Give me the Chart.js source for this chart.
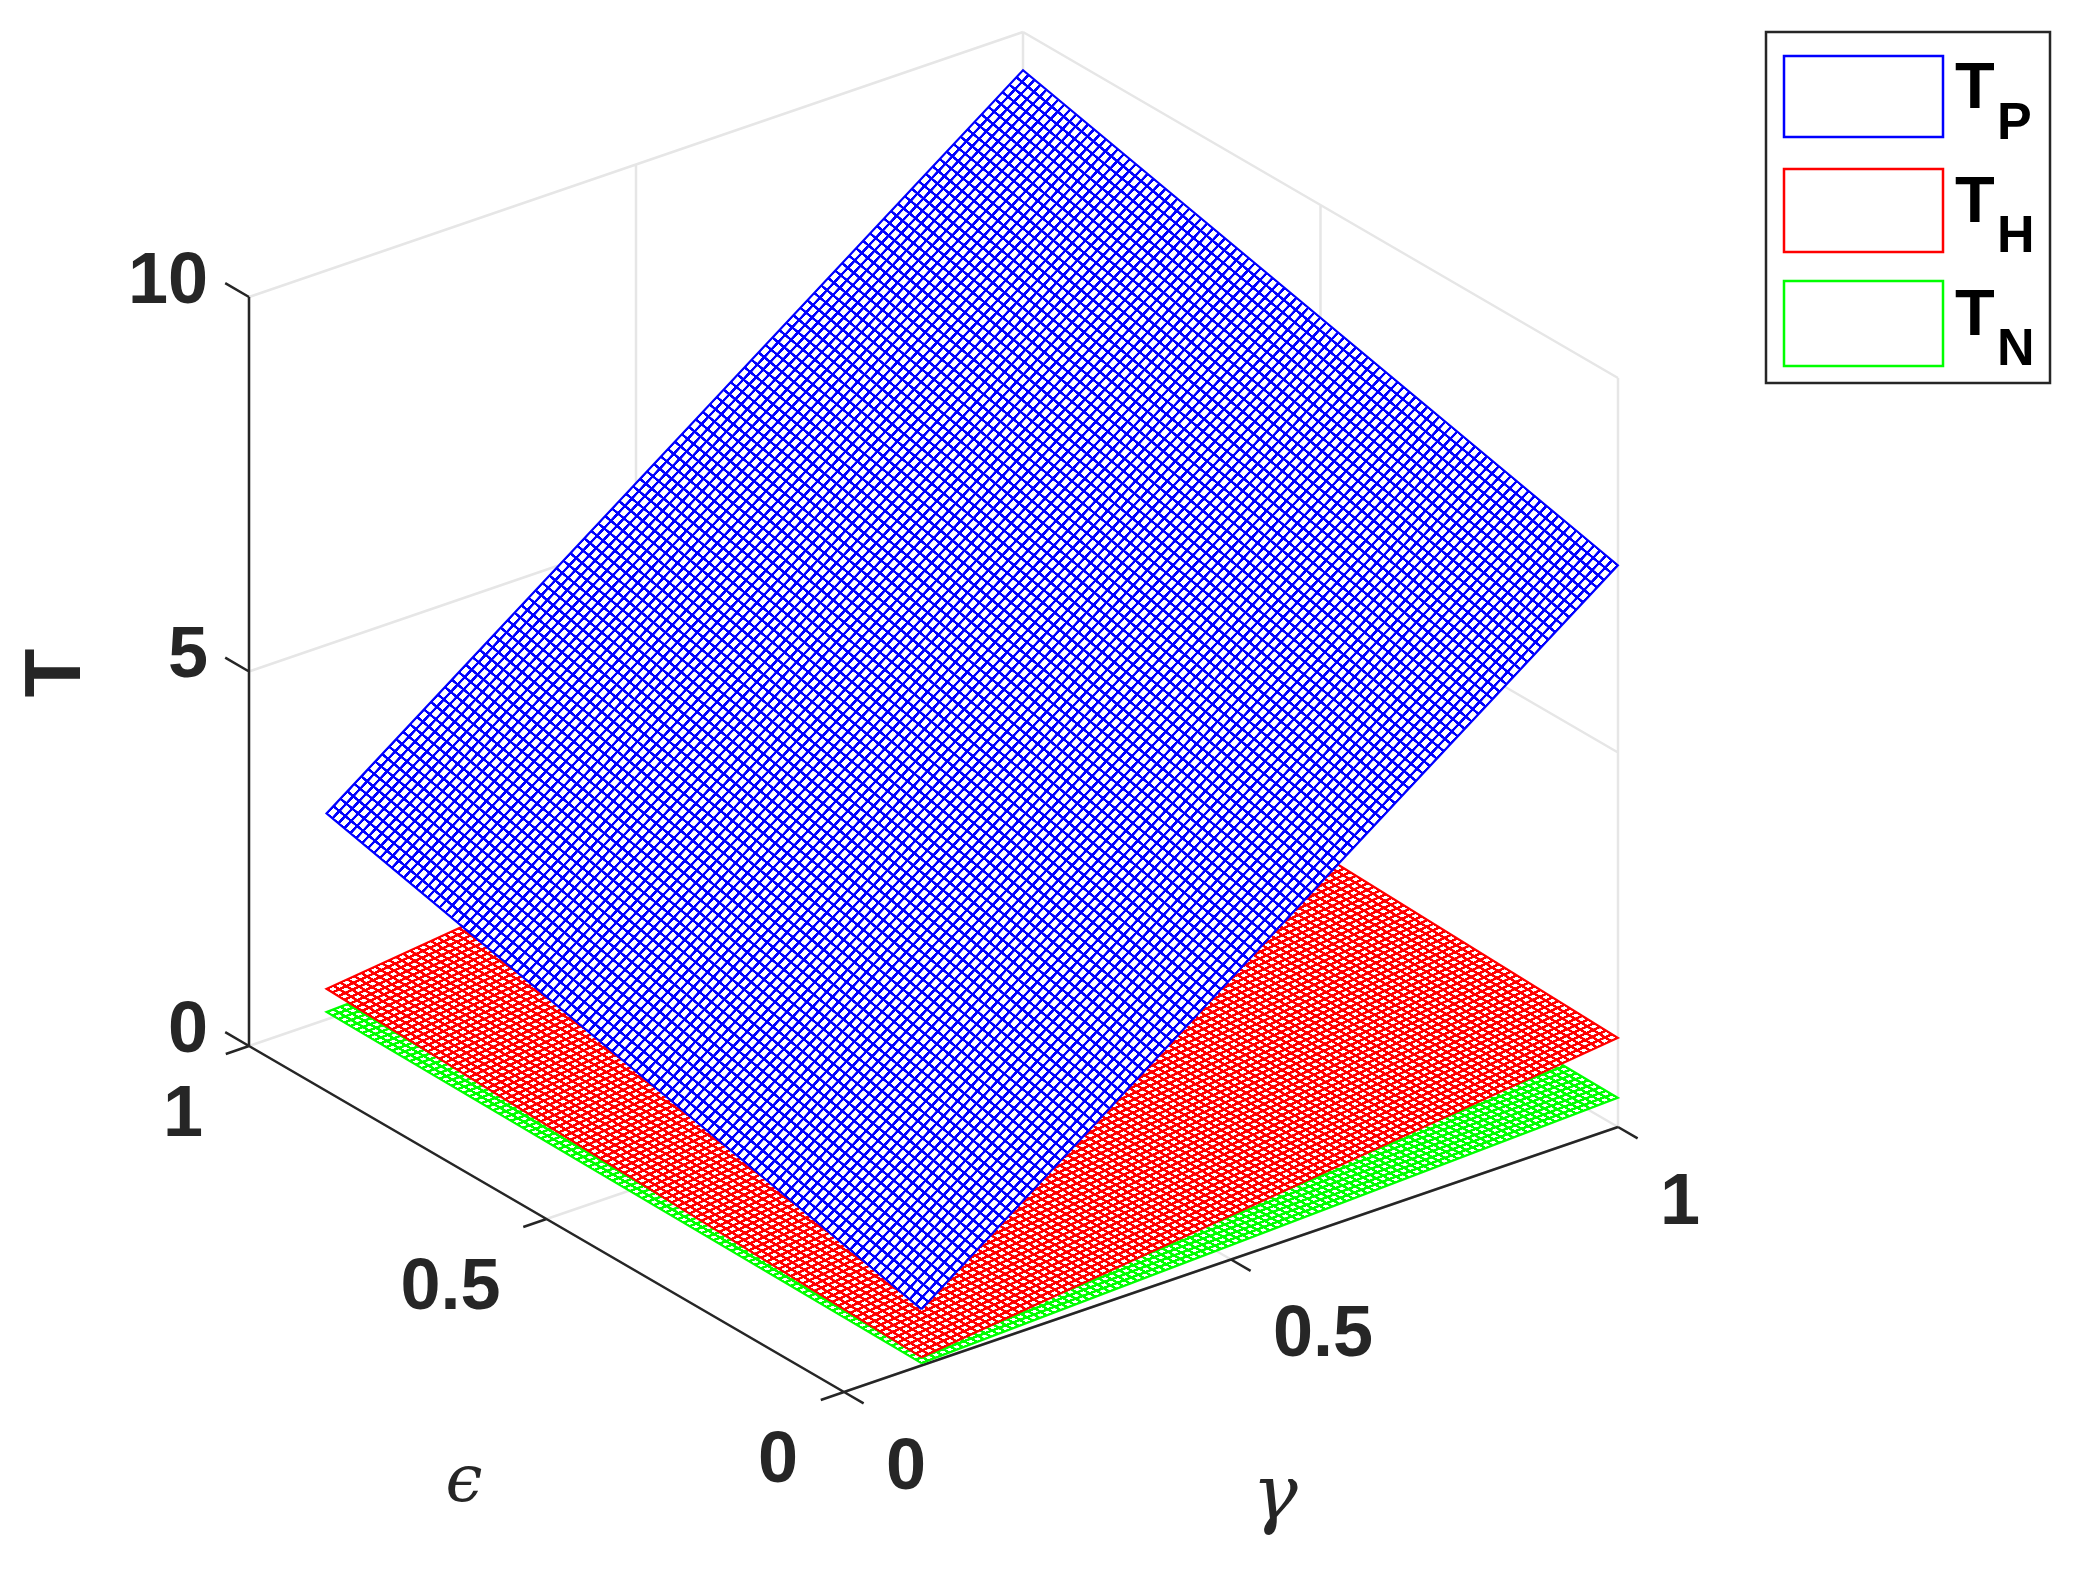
<!DOCTYPE html>
<html>
<head>
<meta charset="utf-8">
<title>T surfaces</title>
<style>
  html, body { margin: 0; padding: 0; background: #fff; }
  canvas { display: block; }
</style>
<script src="https://cdn.jsdelivr.net/npm/chart.js@4"></script>
</head>
<body>
<canvas id="chart" width="2081" height="1570"></canvas>
<script>
// axis ticks
const gammaTicks = [0, 0.5, 1];
const epsilonTicks = [0, 0.5, 1];
const tTicks = [0, 5, 10];
const gammaTickLabels = ['0', '0.5', '1'];
const epsilonTickLabels = ['0', '0.5', '1'];
const tTickLabels = ['0', '5', '10'];

// surface corners (same order in every array)
const cornerGamma = [0.1, 1, 1, 0.1];
const cornerEpsilon = [0, 0, 1, 1];
const tpValues = [0.75, 7.5, 9.49, 2.75];
const thValues = [0.11, 1.19, 1.49, 0.41];
const tnValues = [0.03, 0.39, 0.49, 0.1];

// mesh cells per surface side
const gammaCells = 100;
const epsilonCells = 100;

// view of the 3D box, in canvas pixels
const view = {
  origin: [844, 1392],
  gamma: [774, -265],
  epsilon: [-595, -346],
  t: -74.9
};

function project(g, e, t) {
  return {
    x: view.origin[0] + g * view.gamma[0] + e * view.epsilon[0],
    y: view.origin[1] + g * view.gamma[1] + e * view.epsilon[1] + t * view.t
  };
}

// line list with gaps between the segments
function segments(list) {
  const out = [];
  list.forEach(function(s) {
    out.push(project(s[0], s[1], s[2]), project(s[3], s[4], s[5]), { x: NaN, y: NaN });
  });
  return out;
}

const gridSegments = [];
gammaTicks.forEach(function(g) {
  gridSegments.push([g, 0, 0, g, 1, 0]);
  gridSegments.push([g, 1, 0, g, 1, 10]);
});
epsilonTicks.forEach(function(e) {
  gridSegments.push([0, e, 0, 1, e, 0]);
  gridSegments.push([1, e, 0, 1, e, 10]);
});
tTicks.forEach(function(t) {
  gridSegments.push([0, 1, t, 1, 1, t]);
  gridSegments.push([1, 1, t, 1, 0, t]);
});

const axisSegments = [
  [0, 1, 0, 0, 1, 10],
  [0, 1, 0, 0, 0, 0],
  [0, 0, 0, 1, 0, 0]
];
tTicks.forEach(function(t) { axisSegments.push([0, 1, t, 0, 1.04, t]); });
epsilonTicks.forEach(function(e) { axisSegments.push([0, e, 0, -0.03, e, 0]); });
gammaTicks.forEach(function(g) { axisSegments.push([g, 0, 0, g, -0.033, 0]); });

// mesh look of a surface: white cell with coloured edges, skewed onto the surface
function meshPattern(values, color) {
  const pts = values.map(function(t, i) { return project(cornerGamma[i], cornerEpsilon[i], t); });
  const u = { x: (pts[1].x - pts[0].x) / gammaCells, y: (pts[1].y - pts[0].y) / gammaCells };
  const v = { x: (pts[3].x - pts[0].x) / epsilonCells, y: (pts[3].y - pts[0].y) / epsilonCells };
  const cross = Math.abs(u.x * v.y - u.y * v.x);
  const size = 32;
  const lineWidth = 2.5;
  const wu = lineWidth * size * Math.hypot(u.x, u.y) / cross;
  const wv = lineWidth * size * Math.hypot(v.x, v.y) / cross;

  const tile = document.createElement('canvas');
  tile.width = size;
  tile.height = size;
  const c = tile.getContext('2d');
  c.fillStyle = '#ffffff';
  c.fillRect(0, 0, size, size);
  c.fillStyle = color;
  c.fillRect(0, 0, wv / 2, size);
  c.fillRect(size - wv / 2, 0, wv / 2, size);
  c.fillRect(0, 0, size, wu / 2);
  c.fillRect(0, size - wu / 2, size, wu / 2);

  const ctx = document.getElementById('chart').getContext('2d');
  const pattern = ctx.createPattern(tile, 'repeat');
  pattern.setTransform(new DOMMatrix([u.x / size, u.y / size, v.x / size, v.y / size, pts[0].x, pts[0].y]));
  return pattern;
}

function surfaceDataset(label, values, color, order) {
  const data = values.map(function(t, i) { return project(cornerGamma[i], cornerEpsilon[i], t); });
  data.push(data[0]);
  return {
    label: label,
    data: data,
    order: order,
    showLine: true,
    fill: 'shape',
    backgroundColor: meshPattern(values, color),
    borderColor: color,
    borderWidth: 2,
    pointRadius: 0,
    tension: 0
  };
}

function lineDataset(label, data, color, width, order) {
  return {
    label: label,
    data: data,
    order: order,
    showLine: true,
    fill: false,
    spanGaps: false,
    borderColor: color,
    borderWidth: width,
    pointRadius: 0
  };
}

const INK = '#262626';
const TICK_FONT = 'bold 72px "Liberation Sans", Arial, sans-serif';

// tick labels, axis names and legend
const labelsPlugin = {
  id: 'labels3d',
  afterDraw: function(chart) {
    const ctx = chart.ctx;
    const sx = chart.scales.x;
    const sy = chart.scales.y;
    function at(p) { return { x: sx.getPixelForValue(p.x), y: sy.getPixelForValue(p.y) }; }

    ctx.save();
    ctx.fillStyle = INK;
    ctx.font = TICK_FONT;
    ctx.textBaseline = 'middle';

    ctx.textAlign = 'right';
    tTicks.forEach(function(t, i) {
      const p = at(project(0, 1, t));
      ctx.fillText(tTickLabels[i], p.x - 41, p.y - 14);
    });
    epsilonTicks.forEach(function(e, i) {
      const p = at(project(0, e, 0));
      ctx.fillText(epsilonTickLabels[i], p.x - 46, p.y + 70);
    });
    ctx.textAlign = 'left';
    gammaTicks.forEach(function(g, i) {
      const p = at(project(g, 0, 0));
      ctx.fillText(gammaTickLabels[i], p.x + 42, p.y + 77);
    });

    // axis names
    ctx.textAlign = 'center';
    ctx.font = 'italic 66px "DejaVu Serif", serif';
    ctx.fillText('\u03f5', 464, 1484);
    ctx.font = 'italic 76px "DejaVu Serif", serif';
    ctx.fillText('\u03b3', 1275, 1499);

    ctx.save();
    ctx.translate(58, 673);
    ctx.rotate(-Math.PI / 2);
    ctx.font = 'bold 80px "Liberation Sans", Arial, sans-serif';
    ctx.fillText('T', 0, 0);
    ctx.restore();

    // legend
    ctx.fillStyle = '#ffffff';
    ctx.fillRect(1766, 32, 284, 351);
    ctx.strokeStyle = INK;
    ctx.lineWidth = 2.5;
    ctx.strokeRect(1766, 32, 284, 351);

    const legendRows = [
      { sub: 'P', color: '#0000ff', top: 56, bottom: 137, base: 108, subBase: 139 },
      { sub: 'H', color: '#ff0000', top: 169, bottom: 252, base: 222, subBase: 252 },
      { sub: 'N', color: '#00ff00', top: 281, bottom: 366, base: 335, subBase: 365 }
    ];
    ctx.textAlign = 'left';
    ctx.textBaseline = 'alphabetic';
    legendRows.forEach(function(row) {
      ctx.strokeStyle = row.color;
      ctx.strokeRect(1784, row.top, 159, row.bottom - row.top);
      ctx.fillStyle = '#000000';
      ctx.font = 'bold 65px "Liberation Sans", Arial, sans-serif';
      ctx.fillText('T', 1955, row.base);
      ctx.font = 'bold 52px "Liberation Sans", Arial, sans-serif';
      ctx.fillText(row.sub, 1997, row.subBase);
    });
    ctx.restore();
  }
};

new Chart(document.getElementById('chart'), {
  type: 'scatter',
  data: {
    datasets: [
      surfaceDataset('TP', tpValues, '#0000ff', 1),
      surfaceDataset('TH', thValues, '#ff0000', 2),
      surfaceDataset('TN', tnValues, '#00ff00', 3),
      lineDataset('axes', segments(axisSegments), INK, 2.5, 4),
      lineDataset('grid', segments(gridSegments), '#e6e6e6', 2.5, 5)
    ]
  },
  options: {
    responsive: false,
    animation: false,
    layout: { padding: 0 },
    plugins: {
      legend: { display: false },
      tooltip: { enabled: false }
    },
    scales: {
      x: { type: 'linear', display: false, min: 0, max: 2081 },
      y: { type: 'linear', display: false, min: 0, max: 1570, reverse: true }
    }
  },
  plugins: [labelsPlugin]
});
</script>
</body>
</html>
